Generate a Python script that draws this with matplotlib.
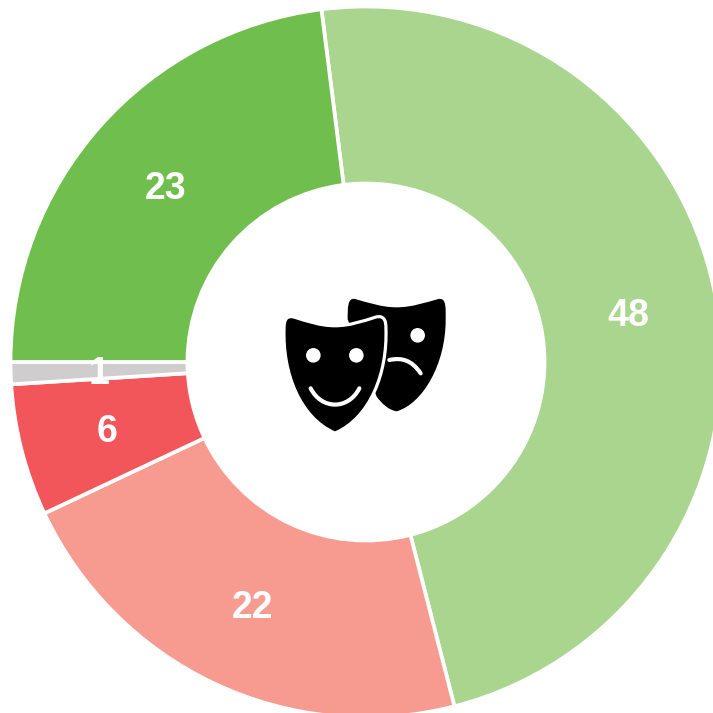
import matplotlib
matplotlib.use('Agg')
import matplotlib.pyplot as plt
from matplotlib.path import Path
from matplotlib.patches import PathPatch, Circle

# valores, em sentido horario
valores = [48, 22, 6, 1, 23]
cores = ['#A9D58E', '#F79A90', '#F2565B', '#CFCDCE', '#70BF4E']

plt.rcParams['font.family'] = ['Liberation Sans', 'DejaVu Sans']

fig = plt.figure(figsize=(7.13, 7.13), dpi=100)
ax = fig.add_axes([0, 0, 1, 1])
ax.set_xlim(0, 713)
ax.set_ylim(0, 713)
ax.axis('off')

raio = 355.5
wedges, textos, autotextos = ax.pie(
    valores, colors=cores, center=(366, 713 - 362), radius=raio,
    startangle=97.2, counterclock=False, frame=False,
    autopct=lambda p: f'{p:.0f}', pctdistance=0.752,
    wedgeprops={'width': raio - 178.5, 'edgecolor': 'white', 'linewidth': 2.7})
for t in autotextos:
    t.set_color('white')
    t.set_fontsize(27)
    t.set_fontweight('bold')
    # a referencia tem o texto um pouco mais abaixo
    x, y = t.get_position()
    t.set_position((x, y - 4))

ax.set_xlim(0, 713)
ax.set_ylim(0, 713)
ax.set_aspect('equal')

# icone das mascaras, desenhado em coordenadas de pixel
icone = fig.add_axes([0, 0, 1, 1])
icone.set_xlim(0, 713)
icone.set_ylim(713, 0)
icone.axis('off')
icone.patch.set_alpha(0)


def px(x, y):
    # converte do recorte ampliado 3x para pixels
    return (260 + x / 3, 280 + y / 3)


def caminho(pontos, codigos):
    return Path([px(*p) for p in pontos], codigos)


C = Path.CURVE4
M = Path.MOVETO
L = Path.LINETO

tras = caminho(
    [(263, 118), (263, 85), (262, 52), (285, 57),
     (325, 68), (365, 82), (410, 82),
     (455, 82), (495, 68), (535, 57),
     (560, 52), (557, 85), (557, 120),
     (557, 250), (490, 370), (410, 394),
     (385, 390), (365, 370), (350, 350),
     (263, 118)],
    [M, C, C, C, C, C, C, C, C, C, C, C, C, C, C, C, C, C, C, L])
icone.add_patch(PathPatch(tras, facecolor='black', edgecolor='none', zorder=3))

frente = caminho(
    [(77, 145), (77, 125), (80, 110), (102, 116),
     (140, 128), (180, 142), (225, 142),
     (270, 142), (310, 128), (348, 116),
     (370, 110), (373, 125), (373, 145),
     (378, 280), (325, 410), (225, 454),
     (125, 410), (72, 280), (77, 145)],
    [M, C, C, C, C, C, C, C, C, C, C, C, C, C, C, C, C, C, C])
# contorno branco por baixo, preenchimento preto por cima
icone.add_patch(PathPatch(frente, facecolor='white', edgecolor='white',
                          linewidth=4.6, zorder=4, joinstyle='round'))
icone.add_patch(PathPatch(frente, facecolor='black', edgecolor='none', zorder=4.5))

sorriso = caminho([(152, 325), (185, 390), (265, 390), (298, 325)], [M, C, C, C])
icone.add_patch(PathPatch(sorriso, facecolor='none', edgecolor='white',
                          linewidth=3, capstyle='round', zorder=5))

tristeza = caminho([(388, 240), (425, 232), (455, 240), (482, 280)], [M, C, C, C])
icone.add_patch(PathPatch(tristeza, facecolor='none', edgecolor='white',
                          linewidth=3, capstyle='round', zorder=3.5))

for x, y in [(160, 226), (289, 226), (473, 166)]:
    zordem = 3.5 if x > 400 else 5
    icone.add_patch(Circle(px(x, y), 7.3, facecolor='white', edgecolor='none', zorder=zordem))

fig.savefig('out.png', dpi=100)
